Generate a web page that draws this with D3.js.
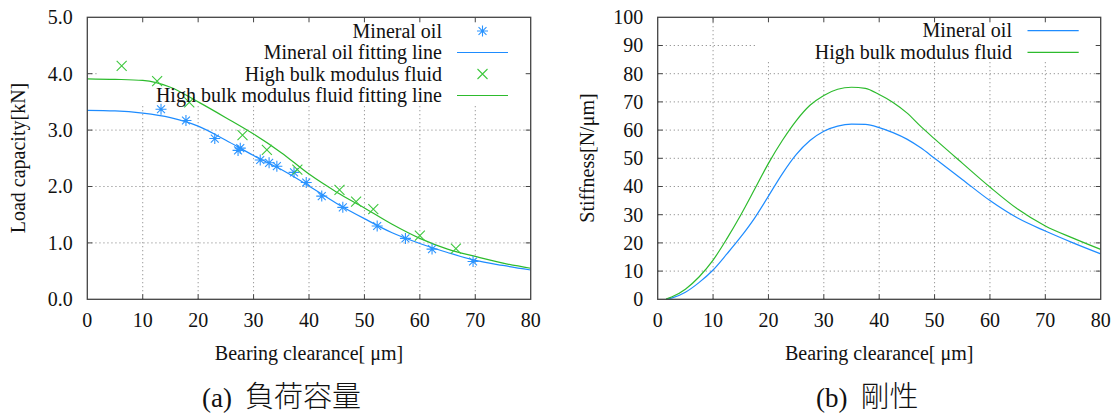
<!DOCTYPE html>
<html>
<head>
<meta charset="utf-8">
<script src="https://cdn.jsdelivr.net/npm/d3@7/dist/d3.min.js"></script>
<style>
  body { margin: 0; background: #fff; }
  text { font-family: "Liberation Serif", "Times New Roman", "DejaVu Serif", serif; fill: #111; }
  .cjk { font-family: "Noto Sans CJK JP", "Noto Sans CJK SC", sans-serif; font-weight: 300; }
</style>
</head>
<body>
<svg id="chart" width="1117" height="414"></svg>
<script>
// (a) load capacity, measured points
const mineralX = [13.3, 17.8, 23.0, 27.2, 27.6, 31.2, 32.8, 34.2, 37.3, 39.5, 42.3, 46.1, 52.3, 57.4, 62.2, 69.6];
const mineralY = [3.37, 3.17, 2.85, 2.64, 2.68, 2.47, 2.42, 2.36, 2.25, 2.07, 1.83, 1.63, 1.30, 1.08, 0.89, 0.67];
const hbmX = [6.2, 12.6, 18.4, 28.0, 32.4, 37.9, 45.5, 48.5, 51.6, 60.0, 66.5];
const hbmY = [4.14, 3.87, 3.49, 2.91, 2.65, 2.30, 1.94, 1.73, 1.60, 1.13, 0.90];

// (a) fitting lines
const fitX = [0, 5, 10, 15, 20, 25, 30, 35, 40, 45, 50, 55, 60, 65, 70, 75, 80];
const mineralFit = [3.35, 3.34, 3.30, 3.22, 3.07, 2.82, 2.55, 2.30, 2.01, 1.70, 1.43, 1.18, 0.99, 0.83, 0.69, 0.60, 0.52];
const hbmFit = [3.91, 3.90, 3.88, 3.76, 3.50, 3.22, 2.93, 2.60, 2.22, 1.90, 1.62, 1.33, 1.08, 0.89, 0.76, 0.64, 0.55];

// (b) stiffness
const stiffX = [1.5, 2.5, 5, 7.5, 10, 12.5, 15, 17.5, 20, 22.5, 25, 27.5, 30, 32.5, 35, 37.5, 40, 42.5, 45, 47.5, 50, 55, 60, 65, 70, 75, 80];
const mineralStiff = [0, 0.4, 2.5, 6, 10.4, 16.1, 22.1, 28.8, 36.6, 44.5, 51.3, 56.3, 59.6, 61.4, 62.1, 62, 60.9, 59.1, 56.8, 53.7, 50, 42.5, 35, 28.8, 24.2, 20, 16.1];
const hbmStiff = [0.1, 0.8, 3.6, 8, 13.9, 21.5, 29.9, 39, 48.2, 56.3, 63.3, 68.8, 72.3, 74.5, 75.2, 74.8, 72.6, 69.8, 66.1, 61.3, 56.9, 48.3, 39.8, 32, 26, 21.7, 17.7];

const xTicks = [0, 10, 20, 30, 40, 50, 60, 70, 80];
const loadTicks = [0, 1, 2, 3, 4, 5];
const stiffTicks = [0, 10, 20, 30, 40, 50, 60, 70, 80, 90, 100];

const BLUE = "#1e8cff";
const GREEN = "#2dbb2d";

const svg = d3.select("#chart");
svg.append("rect").attr("width", 1117).attr("height", 414).attr("fill", "#fff");

// asterisk and times glyphs for the point marks
function asterisk(r) {
  const d = r * 0.72;
  return `M${-r},0L${r},0M0,${-r}L0,${r}M${-d},${-d}L${d},${d}M${-d},${d}L${d},${-d}`;
}
function times(r) {
  return `M${-r},${-r}L${r},${r}M${-r},${r}L${r},${-r}`;
}

function drawPanel(p) {
  const x = d3.scaleLinear().domain([0, 80]).range([p.left, p.right]);
  const y = d3.scaleLinear().domain(p.yDomain).range([299.3, 17.3]);
  const g = svg.append("g");

  // dotted grid
  g.append("g").selectAll("line")
    .data(xTicks.slice(1, -1))
    .join("line")
    .attr("x1", d => x(d)).attr("x2", d => x(d))
    .attr("y1", y.range()[0]).attr("y2", y.range()[1])
    .attr("stroke", "#9a9a9a").attr("stroke-width", 1).attr("stroke-dasharray", "1.3,2.7");
  g.append("g").selectAll("line")
    .data(p.yTicks.slice(1, -1))
    .join("line")
    .attr("x1", p.left).attr("x2", p.right)
    .attr("y1", d => y(d)).attr("y2", d => y(d))
    .attr("stroke", "#9a9a9a").attr("stroke-width", 1).attr("stroke-dasharray", "1.3,2.7");

  // opaque key box hides the grid behind the legend
  g.append("rect")
    .attr("x", p.keyBox[0]).attr("y", 17.3)
    .attr("width", p.right - p.keyBox[0]).attr("height", p.keyBox[1] - 17.3)
    .attr("fill", "#fff");

  const line = d3.line().x(d => x(d[0])).y(d => y(d[1])).curve(d3.curveMonotoneX);
  p.lines.forEach(s => {
    g.append("path")
      .datum(s.xs.map((v, i) => [v, s.ys[i]]))
      .attr("d", line)
      .attr("fill", "none")
      .attr("stroke", s.color)
      .attr("stroke-width", 1.2);
  });

  (p.points || []).forEach(s => {
    g.append("g").selectAll("path")
      .data(s.xs.map((v, i) => [v, s.ys[i]]))
      .join("path")
      .attr("transform", d => `translate(${x(d[0])},${y(d[1])})`)
      .attr("d", s.glyph)
      .attr("fill", "none")
      .attr("stroke", s.color)
      .attr("stroke-width", 1.1);
  });

  // legend
  p.legend.forEach((k, i) => {
    const cy = p.keyTop + i * p.keyStep;
    g.append("text")
      .attr("x", p.keyTextX).attr("y", cy + 6.5)
      .attr("text-anchor", "end")
      .attr("font-size", 20)
      .text(k.label);
    if (k.glyph) {
      g.append("path")
        .attr("transform", `translate(${(p.keySample[0] + p.keySample[1]) / 2},${cy})`)
        .attr("d", k.glyph)
        .attr("fill", "none").attr("stroke", k.color).attr("stroke-width", 1.1);
    } else {
      g.append("line")
        .attr("x1", p.keySample[0]).attr("x2", p.keySample[1])
        .attr("y1", cy).attr("y2", cy)
        .attr("stroke", k.color).attr("stroke-width", 1.2);
    }
  });

  // border with inward ticks on all four sides
  const tick = 5;
  const axisStroke = "#444";
  g.append("rect")
    .attr("x", p.left).attr("y", 17.3)
    .attr("width", p.right - p.left).attr("height", 299.3 - 17.3)
    .attr("fill", "none").attr("stroke", axisStroke).attr("stroke-width", 1.3);
  g.append("g").selectAll("path")
    .data(xTicks.slice(1, -1))
    .join("path")
    .attr("d", d => `M${x(d)},299.3v${-tick}M${x(d)},17.3v${tick}`)
    .attr("stroke", axisStroke);
  g.append("g").selectAll("path")
    .data(p.yTicks.slice(1, -1))
    .join("path")
    .attr("d", d => `M${p.left},${y(d)}h${tick}M${p.right},${y(d)}h${-tick}`)
    .attr("stroke", axisStroke);

  // tick labels
  g.append("g").selectAll("text")
    .data(xTicks)
    .join("text")
    .attr("x", d => x(d)).attr("y", 326.7)
    .attr("text-anchor", "middle")
    .attr("font-size", 20)
    .text(d => d);
  g.append("g").selectAll("text")
    .data(p.yTicks)
    .join("text")
    .attr("x", p.left - 14.5).attr("y", d => y(d) + 6.8)
    .attr("text-anchor", "end")
    .attr("font-size", 20)
    .text(p.yFormat);

  // axis titles
  g.append("text")
    .attr("x", (p.left + p.right) / 2).attr("y", 360)
    .attr("text-anchor", "middle")
    .attr("font-size", 20)
    .text("Bearing clearance[ μm]");
  g.append("text")
    .attr("transform", `translate(${p.yLabelX},158) rotate(-90)`)
    .attr("text-anchor", "middle")
    .attr("font-size", 20)
    .text(p.yLabel);

  // caption
  const cap = g.append("text")
    .attr("x", p.captionX).attr("y", 407)
    .attr("font-size", 27);
  cap.append("tspan").text(p.caption[0]);
  cap.append("tspan").attr("class", "cjk").attr("dx", 13).attr("font-size", 29).text(p.caption[1]);
}

drawPanel({
  left: 87.3, right: 530.7,
  yDomain: [0, 5], yTicks: loadTicks, yFormat: d3.format(".1f"),
  yLabel: "Load capacity[kN]", yLabelX: 25,
  keyBox: [97, 106],
  keyTop: 31, keyStep: 21.5, keyTextX: 442, keySample: [457, 508],
  lines: [
    { xs: fitX, ys: mineralFit, color: BLUE },
    { xs: fitX, ys: hbmFit, color: GREEN }
  ],
  points: [
    { xs: mineralX, ys: mineralY, color: "#2b94ff", glyph: asterisk(5.5) },
    { xs: hbmX, ys: hbmY, color: "#3fc83f", glyph: times(5) }
  ],
  legend: [
    { label: "Mineral oil", color: "#2b94ff", glyph: asterisk(5.5) },
    { label: "Mineral oil fitting line", color: BLUE },
    { label: "High bulk modulus fluid", color: "#3fc83f", glyph: times(5) },
    { label: "High bulk modulus fluid fitting line", color: GREEN }
  ],
  caption: ["(a)", "負荷容量"], captionX: 202
});

drawPanel({
  left: 657.7, right: 1100.7,
  yDomain: [0, 100], yTicks: stiffTicks, yFormat: d => d,
  yLabel: "Stiffness[N/μm]", yLabelX: 594,
  keyBox: [757, 62],
  keyTop: 30.7, keyStep: 21.6, keyTextX: 1012, keySample: [1027.5, 1078.7],
  lines: [
    { xs: stiffX, ys: mineralStiff, color: BLUE },
    { xs: stiffX, ys: hbmStiff, color: GREEN }
  ],
  legend: [
    { label: "Mineral oil", color: BLUE },
    { label: "High bulk modulus fluid", color: GREEN }
  ],
  caption: ["(b)", "剛性"], captionX: 816
});
</script>
</body>
</html>
